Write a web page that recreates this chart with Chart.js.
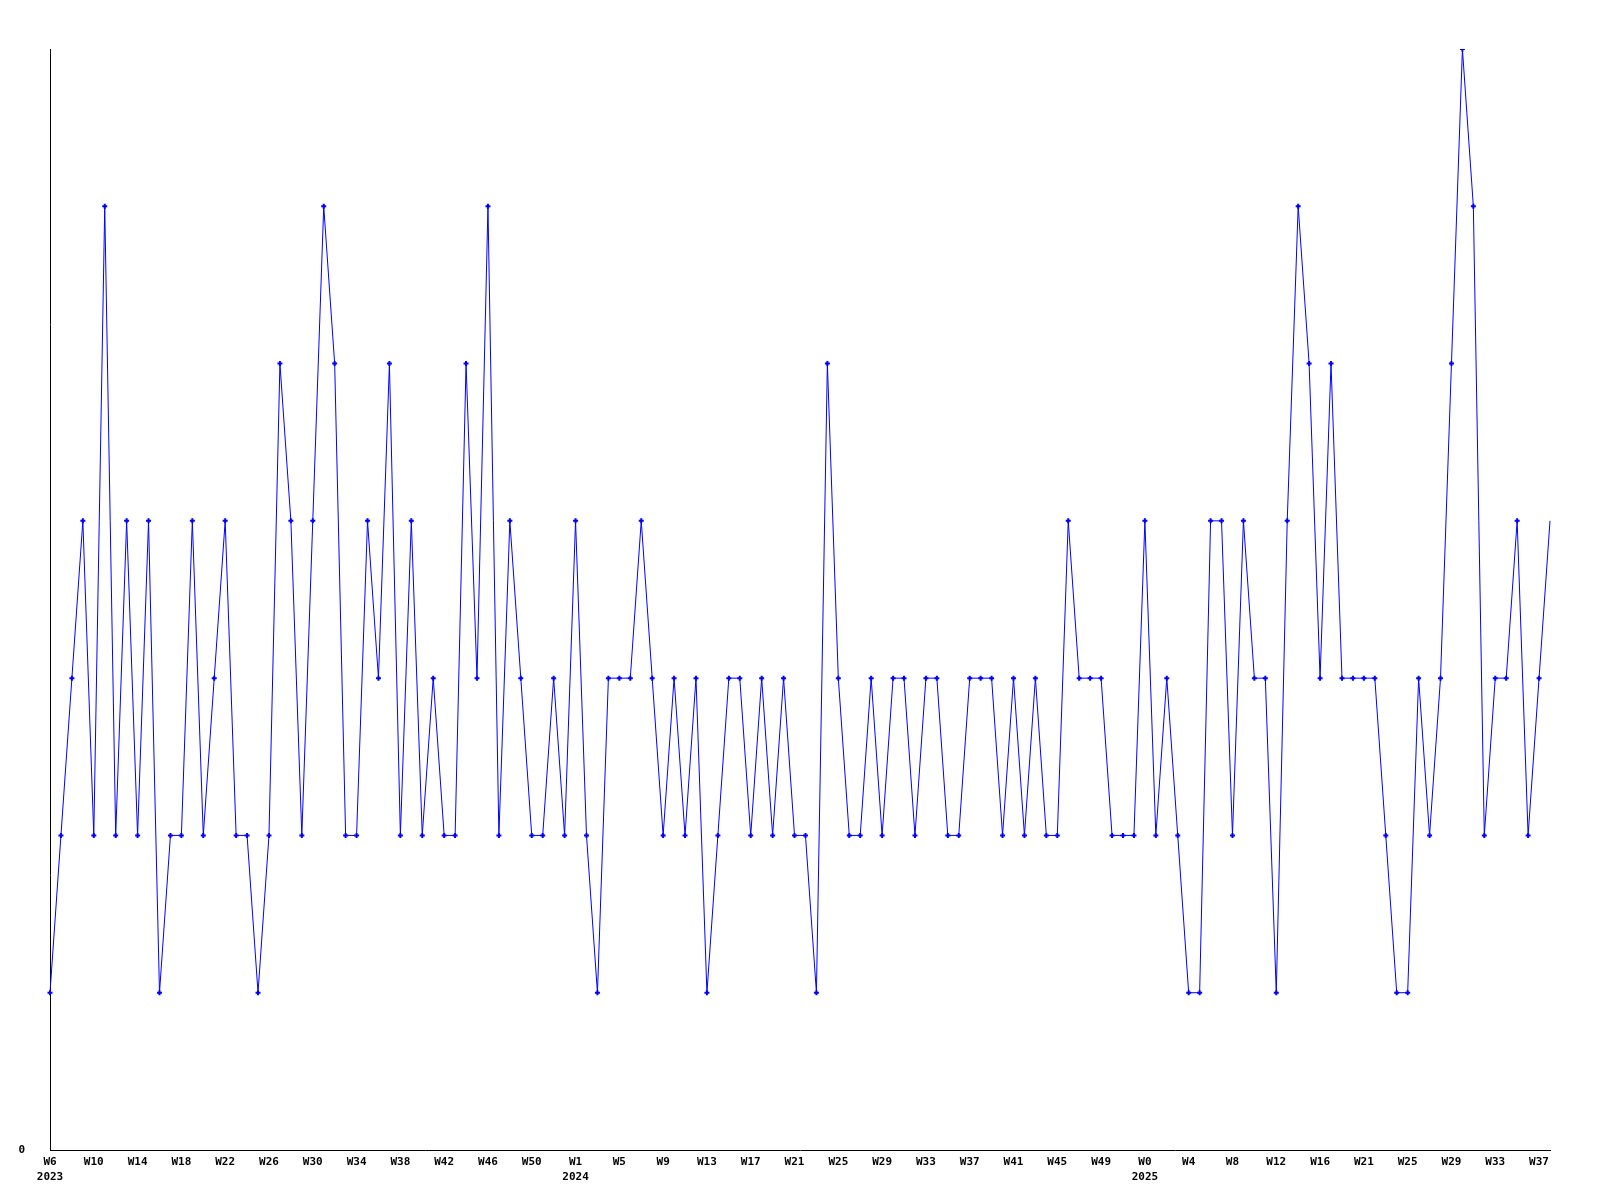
<!DOCTYPE html>
<html>
<head>
<meta charset="utf-8">
<script src="https://cdn.jsdelivr.net/npm/chart.js@4/dist/chart.umd.min.js"></script>
<style>
  html, body { margin: 0; padding: 0; background: #fff; }
  #wrap { width: 1600px; height: 1200px; }
</style>
</head>
<body>
<div id="wrap"><canvas id="lineChart" width="1600" height="1200"></canvas></div>
<script>
// week labels per year
var weeks2023 = ['W6','W7','W8','W9','W10','W11','W12','W13','W14','W15','W16','W17','W18','W19','W20','W21',
    'W22','W23','W24','W25','W26','W27','W28','W29','W30','W31','W32','W33','W34','W35','W36','W37',
    'W38','W39','W40','W41','W42','W43','W44','W45','W46','W47','W48','W49','W50','W51','W52','W53'];
var weeks2024 = ['W1','W2','W3','W4','W5','W6','W7','W8','W9','W10','W11','W12','W13','W14','W15','W16',
    'W17','W18','W19','W20','W21','W22','W23','W24','W25','W26','W27','W28','W29','W30','W31','W32',
    'W33','W34','W35','W36','W37','W38','W39','W40','W41','W42','W43','W44','W45','W46','W47','W48',
    'W49','W50','W51','W52'];
var weeks2025 = ['W0','W1','W2','W3','W4','W5','W6','W7','W8','W9','W10','W11','W12','W13','W14','W15',
    'W16','W17','W18','W19','W21','W22','W23','W24','W25','W26','W27','W28','W29','W30','W31','W32',
    'W33','W34','W35','W36','W37','W38'];

// weekly counts
var counts2023 = [1,2,3,4,2,6,2,4,2,4,1,2,2,4,2,3,4,2,2,1,2,5,4,2,4,6,5,2,2,4,3,5,2,4,2,3,2,2,5,3,6,2,4,3,2,2,3,2];
var counts2024 = [4,2,1,3,3,3,4,3,2,3,2,3,1,2,3,3,2,3,2,3,2,2,1,5,3,2,2,3,2,3,3,2,3,3,2,2,3,3,3,2,3,2,3,2,2,4,3,3,3,2,2,2];
var counts2025 = [4,2,3,2,1,1,4,4,2,4,3,3,1,4,6,5,3,5,3,3,3,3,2,1,1,3,2,3,5,7,6,2,3,3,4,2,3,4];

var yearNames = ['2023', '2024', '2025'];

var labels = weeks2023.concat(weeks2024, weeks2025);
var values = counts2023.concat(counts2024, counts2025);
var yearStarts = {};
yearStarts[0] = yearNames[0];
yearStarts[weeks2023.length] = yearNames[1];
yearStarts[weeks2023.length + weeks2024.length] = yearNames[2];

var tickFont = { family: 'DejaVu Sans Mono', size: 11, weight: 'bold', lineHeight: '15px' };

var ctx = document.getElementById('lineChart').getContext('2d');
new Chart(ctx, {
    type: 'line',
    data: {
        labels: labels,
        datasets: [{
            data: values,
            borderColor: '#0000ff',
            backgroundColor: '#0000ff',
            borderWidth: 1,
            tension: 0,
            fill: false,
            pointStyle: 'cross',
            pointRadius: function (c) { return c.dataIndex === values.length - 1 ? 0 : 2.5; },
            pointBorderWidth: 2,
            pointBorderColor: '#0000ff'
        }]
    },
    options: {
        responsive: false,
        animation: false,
        layout: { padding: { top: 49, right: 50, left: 0, bottom: 0 } },
        plugins: {
            legend: { display: false },
            tooltip: { enabled: false }
        },
        scales: {
            x: {
                type: 'category',
                offset: false,
                grid: { display: false, drawTicks: false, tickLength: 0 },
                border: { display: true, color: '#000', width: 1 },
                ticks: {
                    autoSkip: false,
                    maxRotation: 0,
                    minRotation: 0,
                    padding: 5,
                    color: '#000',
                    font: tickFont,
                    callback: function (val, i) {
                        if (i % 4 !== 0) return null;
                        var w = this.getLabelForValue(val);
                        return yearStarts[i] ? [w, yearStarts[i]] : w;
                    }
                },
                afterFit: function (s) { s.height = 50; }
            },
            y: {
                min: 0,
                max: 7,
                grid: { display: false, drawTicks: false, tickLength: 0 },
                border: { display: true, color: '#000', width: 1 },
                afterBuildTicks: function (s) { s.ticks = [{ value: 0 }]; },
                ticks: {
                    padding: 25,
                    color: '#000',
                    font: tickFont
                },
                afterFit: function (s) { s.width = 50; }
            }
        }
    }
});
</script>
</body>
</html>
